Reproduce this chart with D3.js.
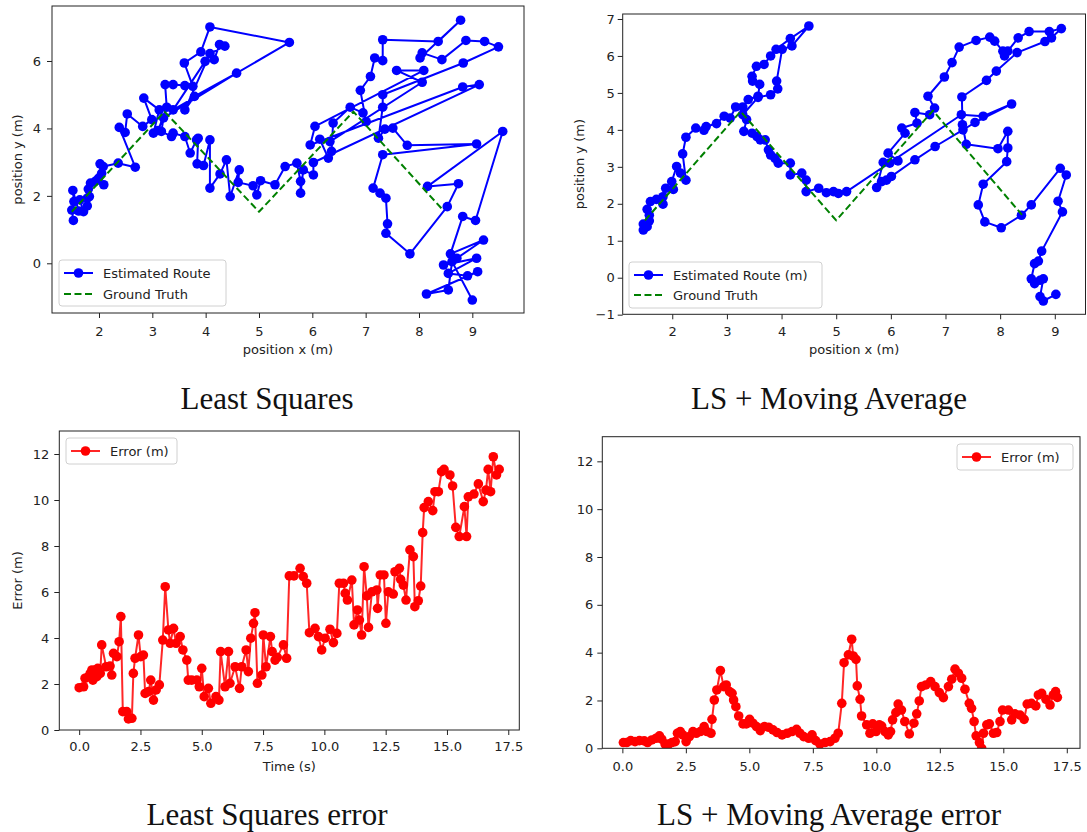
<!DOCTYPE html>
<html><head><meta charset="utf-8">
<script src="https://cdn.jsdelivr.net/npm/d3@7"></script>
<style>
body{margin:0;background:#fff}
svg{display:block}
.tk text,.lbl,.leg{font-family:"DejaVu Sans",sans-serif;font-size:13px;fill:#222}
.cap{font-family:"Liberation Serif","Times New Roman",serif;font-size:31px;fill:#111}
</style>
</head><body>
<svg id="c" width="1087" height="832"></svg>
<script>
// ---------------- DATA ----------------
const lsRouteX = [1.52,1.49,1.62,1.51,1.53,1.64,1.71,1.78,1.78,1.82,1.80,1.84,1.93,2.09,1.99,2.05,2.02,2.08,2.36,2.68,2.38,2.49,2.53,2.82,2.99,2.84,3.13,3.02,3.11,3.27,3.24,3.39,3.61,3.76,3.60,3.91,4.08,5.57,3.39,3.99,4.16,4.26,4.36,4.08,3.61,3.79,4.58,3.21,
 3.17,3.36,3.39,3.61,3.71,3.83,3.86,3.84,3.96,4.08,4.08,4.27,4.39,4.46,4.63,4.61,4.89,4.96,5.03,5.30,
 5.49,5.71,5.78,5.78,5.83,6.02,6.02,9.13,8.82,5.96,6.05,8.09,7.58,8.06,6.33,6.14,6.30,6.36,6.39,6.71,6.95,7.01,6.90,7.09,7.17,7.32,7.32,8.36,8.78,8.02,8.06,8.43,8.88,9.23,9.49,8.83,7.32,
 7.32,7.24,7.36,7.51,7.78,9.08,7.32,7.14,7.27,7.38,7.41,7.38,7.83,8.53,8.74,8.16,9.57,9.06,8.82,8.59,9.21,8.71,8.46,9.08,8.55,8.91,9.10,8.14,8.55,8.62,9.00];
const lsRouteY = [1.27,1.58,1.55,2.16,1.83,1.88,1.53,1.70,1.93,1.98,2.20,2.38,2.43,2.33,2.52,2.67,2.95,2.87,2.97,2.85,4.03,3.88,4.43,4.06,4.26,4.90,4.55,3.86,3.94,4.63,5.30,5.30,5.27,5.25,5.94,6.27,7.01,6.55,4.55,5.99,6.04,6.49,6.44,6.22,4.55,4.95,5.64,4.31,
 3.91,3.76,3.86,3.76,3.27,3.66,3.71,2.95,2.90,3.66,2.23,2.65,3.07,1.98,2.77,2.40,2.30,2.03,2.45,2.33,
 2.87,2.97,2.43,2.08,2.77,2.62,2.99,5.30,5.23,3.51,4.06,5.72,5.72,5.37,3.61,3.68,3.12,3.32,4.16,4.63,4.46,4.20,5.13,5.54,6.09,6.01,6.63,6.58,7.21,6.09,6.24,6.04,6.61,6.58,6.42,5.94,5.00,
 4.63,3.71,3.98,4.01,3.50,3.54,3.22,2.23,2.08,1.93,1.17,0.89,0.28,1.68,2.36,2.28,3.91,1.27,1.39,0.28,0.69,0.15,-0.05,0.15,-0.30,-0.37,-0.25,-0.91,-0.79,0.05,-1.09];
const lsTruthX = [1.49,3.23,5.0,6.77,8.45];
const lsTruthY = [1.53,4.5,1.53,4.5,1.58];

const maRouteX = [1.47,1.47,1.54,1.58,1.58,1.54,1.60,1.71,1.83,1.83,1.88,2.02,1.99,2.08,2.15,2.25,2.19,2.25,2.43,2.58,2.62,2.81,2.95,3.06,3.16,3.29,
 3.39,3.57,3.60,3.47,3.46,3.54,3.68,3.80,3.90,4.16,4.50,4.19,4.01,3.91,3.93,3.80,3.57,
 3.29,3.36,3.31,3.46,3.55,3.61,3.70,3.76,3.80,3.88,3.94,4.16,4.16,4.37,4.45,4.45,4.68,4.82,4.95,5.04,5.19,
 7.29,7.69,8.21,7.54,7.32,6.81,6.44,6.01,5.92,5.83,5.74,5.86,5.98,6.13,5.95,6.26,6.20,6.48,6.44,6.71,6.80,6.68,6.98,7.12,7.25,7.56,7.81,7.90,8.05,8.08,8.14,8.33,8.53,8.90,9.12,8.94,8.82,8.31,7.93,7.75,7.30,7.31,7.38,7.96,8.14,8.14,8.12,7.69,7.60,7.72,8.02,8.39,8.57,9.10,9.21,9.06,9.14,8.76,8.70,8.63,8.57,8.63,8.73,8.79,8.73,8.79,9.02];
const maRouteY = [1.29,1.45,1.38,1.54,1.69,1.85,2.06,2.12,1.99,2.19,2.42,2.39,2.60,3.01,2.83,2.64,3.35,3.80,4.05,3.99,4.09,4.17,4.37,4.32,4.62,4.62,
 4.82,4.91,5.23,5.32,5.45,5.72,5.77,6.00,6.18,6.47,6.81,6.27,6.18,5.32,5.11,4.95,4.88,
 4.41,4.28,3.96,3.91,3.82,3.73,3.73,3.46,3.32,3.23,3.10,3.10,2.78,2.83,2.64,2.33,2.42,2.30,2.33,2.28,2.33,
 4.41,4.37,4.70,4.20,4.00,3.55,3.19,2.74,2.64,2.60,2.44,3.12,3.10,3.16,3.37,3.91,4.05,4.18,4.47,4.41,4.59,4.91,5.43,5.82,6.24,6.42,6.51,6.40,6.13,6.00,6.13,6.49,6.66,6.66,6.74,6.49,6.39,6.09,5.59,5.34,4.89,4.14,3.61,3.49,3.96,3.51,3.14,2.53,1.97,1.51,1.35,1.69,1.97,2.96,2.78,2.07,1.78,0.72,0.45,0.38,-0.03,-0.16,-0.07,-0.03,-0.51,-0.63,-0.45];
const maTruthX = [1.5,3.25,5.0,6.77,8.4];
const maTruthY = [1.55,4.5,1.55,4.52,1.7];

const lsErrT = [0,0.18,0.24,0.38,0.45,0.52,0.56,0.65,0.72,0.76,0.86,0.92,1.1,1.26,1.33,1.40,1.54,1.63,1.70,1.78,1.94,2.01,2.15,2.21,2.28,2.42,2.51,2.62,2.69,2.83,2.92,3.03,3.14,3.27,3.41,3.51,3.64,3.71,3.85,3.95,4.12,4.23,4.39,4.45,4.59,4.80,4.90,5.00,5.10,5.27,5.37,5.58,5.70,5.77,5.95,6.09,6.15,6.36,6.54,6.63,6.81,6.90,7.00,7.11,7.17,7.27,7.45,7.51,7.62,7.80,7.87,7.99,8.08,8.33,8.46,8.57,8.76,9.01,9.14,9.28,9.39,9.62,9.76,9.89,10.03,10.23,10.37,10.51,10.61,10.78,10.85,10.94,11.12,11.21,11.35,11.43,11.52,11.62,11.73,11.80,11.94,12.14,12.17,12.28,12.43,12.51,12.61,12.81,12.88,13.06,13.11,13.22,13.33,13.49,13.63,13.69,13.83,13.93,14.01,14.07,14.24,14.42,14.51,14.65,14.78,14.88,15.12,15.23,15.36,15.50,15.71,15.80,15.87,16.10,16.28,16.48,16.59,16.68,16.78,16.89,17.02,17.13];
const lsErr = [1.84,1.88,2.25,2.32,2.46,2.61,2.17,2.61,2.32,2.68,2.46,3.70,2.75,2.78,2.39,3.33,3.19,3.84,4.93,0.80,0.80,0.48,0.51,2.46,3.12,4.13,3.19,3.26,1.59,1.67,2.17,1.30,1.74,1.96,3.91,6.23,4.35,3.77,4.42,3.77,4.06,3.48,3.04,2.17,2.17,2.17,1.88,2.68,1.45,1.81,1.16,1.45,1.30,3.41,1.88,3.41,2.03,2.75,1.81,2.75,3.48,2.54,3.99,4.64,5.10,2.03,2.39,4.13,2.75,4.06,3.41,3.04,3.16,3.70,3.12,6.70,6.70,7.03,6.67,6.38,4.23,4.42,4.06,3.48,3.99,4.38,3.80,4.20,6.38,6.38,5.94,5.65,6.52,4.57,5.22,4.78,4.13,7.10,5.83,4.46,6.01,6.09,5.29,6.74,6.74,4.64,6.01,5.91,6.88,7.03,6.55,6.30,5.65,7.83,7.54,5.36,5.62,6.26,8.58,9.67,9.93,9.54,10.36,10.36,11.23,11.33,11.09,10.61,8.81,8.41,9.71,8.41,10.14,10.26,10.70,9.93,10.43,11.33,10.36,11.88,11.09,11.33];

const maErrT = [0.04,0.17,0.33,0.50,0.67,0.86,0.99,1.16,1.33,1.46,1.55,1.68,1.82,1.95,2.08,2.17,2.28,2.38,2.51,2.64,2.78,2.91,3.07,3.22,3.33,3.49,3.53,3.62,3.72,3.86,3.99,4.09,4.22,4.32,4.38,4.47,4.58,4.75,4.88,5.01,5.14,5.28,5.43,5.59,5.76,5.93,6.09,6.29,6.49,6.68,6.86,6.99,7.14,7.34,7.47,7.61,7.78,7.98,8.18,8.37,8.50,8.64,8.73,8.90,9.03,9.09,9.20,9.25,9.36,9.42,9.62,9.75,9.86,9.99,10.12,10.21,10.34,10.47,10.56,10.64,10.77,10.86,10.99,11.12,11.30,11.48,11.59,11.69,11.78,11.95,12.14,12.31,12.48,12.64,12.84,12.97,13.10,13.23,13.36,13.49,13.66,13.75,13.85,13.93,14.06,14.15,14.22,14.35,14.45,14.61,14.74,14.87,14.97,15.20,15.33,15.46,15.66,15.82,15.94,16.11,16.28,16.38,16.51,16.68,16.84,16.97,17.06,17.13];
const maErr = [0.24,0.24,0.32,0.28,0.32,0.31,0.24,0.35,0.42,0.52,0.38,0.18,0.18,0.24,0.28,0.63,0.70,0.56,0.28,0.49,0.70,0.63,0.70,0.91,0.70,0.63,1.21,2.02,2.44,3.25,2.58,2.65,2.37,2.30,2.02,1.74,1.35,1.02,1.02,1.21,1.05,0.91,0.74,0.91,0.88,0.77,0.66,0.56,0.63,0.70,0.79,0.63,0.49,0.42,0.56,0.32,0.18,0.24,0.28,0.42,0.63,1.88,3.58,3.91,4.56,3.86,3.72,2.61,2.05,1.35,0.98,0.63,1.02,0.70,0.98,0.93,0.70,0.56,0.70,1.19,1.49,1.85,1.60,1.12,0.60,1.05,1.44,1.98,2.58,2.65,2.79,2.58,2.33,2.12,2.58,2.89,3.31,3.14,2.93,2.47,1.88,1.67,1.12,0.52,0.24,0.00,0.63,0.98,1.02,0.63,0.66,1.12,1.60,1.60,1.19,1.44,1.39,1.21,1.85,1.88,1.77,2.23,2.30,2.05,1.81,2.23,2.37,2.13];

const routeTicksX = [2,3,4,5,6,7,8,9];
const lsTicksY = [0,2,4,6];
const maTicksY = [-1,0,1,2,3,4,5,6,7];
const errTicksX = [0,2.5,5,7.5,10,12.5,15,17.5];
const errTicksY = [0,2,4,6,8,10,12];

// ---------------- DRAWING ----------------
const svg = d3.select('#c');
svg.append('rect').attr('width',1087).attr('height',832).attr('fill','#fff');
let clipId = 0;

function panel(o){
  const g = svg.append('g');
  const x = d3.scaleLinear().domain(o.xd).range([o.l, o.r]);
  const y = d3.scaleLinear().domain(o.yd).range([o.b, o.t]);
  const id = 'clip' + (clipId++);
  g.append('clipPath').attr('id', id).append('rect')
    .attr('x', o.l).attr('y', o.t).attr('width', o.r - o.l).attr('height', o.b - o.t);
  const pg = g.append('g').attr('clip-path', `url(#${id})`);
  const line = d3.line().x(d => x(d[0])).y(d => y(d[1]));
  o.series.forEach(s => {
    const pts = s.xs.map((v, i) => [v, s.ys[i]]);
    pg.append('path').datum(pts).attr('d', line).attr('fill', 'none')
      .attr('stroke', s.color).attr('stroke-width', s.lw)
      .attr('stroke-dasharray', s.dash || null).attr('stroke-opacity', s.op || 1)
      .attr('stroke-linejoin','round');
    if (s.marker) {
      pg.selectAll(null).data(pts).join('circle')
        .attr('cx', d => x(d[0])).attr('cy', d => y(d[1])).attr('r', 4.8)
        .attr('fill', s.color);
    }
  });
  // axes
  const ax = g.append('g').attr('class', 'tk').attr('transform', `translate(0,${o.b})`)
    .call(d3.axisBottom(x).tickValues(o.xt).tickSize(5).tickPadding(o.xpad).tickFormat(o.xf));
  const ay = g.append('g').attr('class', 'tk').attr('transform', `translate(${o.l},0)`)
    .call(d3.axisLeft(y).tickValues(o.yt).tickSize(5).tickPadding(o.ypad).tickFormat(d3.format('d')));
  [ax, ay].forEach(a => {
    a.select('.domain').remove();
    a.selectAll('line').attr('stroke', '#222').attr('stroke-width', 1);
    a.selectAll('text').attr('font-family', '"DejaVu Sans",sans-serif').attr('font-size', 13).attr('fill', '#222');
  });
  g.append('rect').attr('x', o.l).attr('y', o.t).attr('width', o.r - o.l).attr('height', o.b - o.t)
    .attr('fill', 'none').attr('stroke', '#222').attr('stroke-width', 1);
  if (o.xlabel) g.append('text').attr('class','lbl').attr('x', (o.l + o.r) / 2).attr('y', o.xly)
    .attr('text-anchor', 'middle').text(o.xlabel);
  if (o.ylabel) g.append('text').attr('class','lbl')
    .attr('transform', `translate(${o.ylx},${(o.t + o.b) / 2}) rotate(-90)`)
    .attr('text-anchor', 'middle').text(o.ylabel);
  // legend
  const L = o.legend;
  const lg = g.append('g');
  lg.append('rect').attr('x', L.x).attr('y', L.y).attr('width', L.w).attr('height', L.h)
    .attr('rx', 3).attr('fill', '#fff').attr('fill-opacity', 0.85).attr('stroke', '#d0d0d0').attr('stroke-width', 1);
  L.items.forEach((it, i) => {
    const cy = L.y + L.first + i * L.step;
    const s = o.series[it.si];
    lg.append('line').attr('x1', L.x + 5).attr('x2', L.x + 34).attr('y1', cy).attr('y2', cy)
      .attr('stroke', s.color).attr('stroke-width', s.lw).attr('stroke-dasharray', s.dash || null)
      .attr('stroke-opacity', s.op || 1);
    if (s.marker) lg.append('circle').attr('cx', L.x + 19.5).attr('cy', cy).attr('r', 4.8).attr('fill', s.color);
    lg.append('text').attr('class','leg').attr('x', L.x + 44).attr('y', cy + 4.7).text(it.label);
  });
}

const intF = d3.format('d');
const decF = d3.format('.1f');

panel({l:52, r:524, t:6, b:313, xd:[1.119, 9.969], yd:[-1.474, 7.631],
  xt: routeTicksX, yt: lsTicksY, xf: intF, xpad: 9, ypad: 6,
  xlabel: 'position x (m)', xly: 354, ylabel: 'position y (m)', ylx: 22,
  series: [
    {xs: lsRouteX, ys: lsRouteY, color: '#0000ff', lw: 2, marker: true},
    {xs: lsTruthX, ys: lsTruthY, color: '#008000', lw: 2, dash: '7,3.5'}
  ],
  legend: {x: 59, y: 260, w: 167, h: 46, first: 13, step: 21,
    items: [{si: 0, label: 'Estimated Route'}, {si: 1, label: 'Ground Truth'}]}
});

panel({l:622.7, r:1085.5, t:14, b:314.3, xd:[1.093, 9.562], yd:[-0.99, 7.135],
  xt: routeTicksX, yt: maTicksY, xf: intF, xpad: 7, ypad: 3,
  xlabel: 'position x (m)', xly: 354, ylabel: 'position y (m)', ylx: 584,
  series: [
    {xs: maRouteX, ys: maRouteY, color: '#0000ff', lw: 2, marker: true},
    {xs: maTruthX, ys: maTruthY, color: '#008000', lw: 2, dash: '7,3.5'}
  ],
  legend: {x: 629, y: 262, w: 193, h: 46, first: 13, step: 20,
    items: [{si: 0, label: 'Estimated Route (m)'}, {si: 1, label: 'Ground Truth'}]}
});

panel({l:59.3, r:519.3, t:431, b:730, xd:[-0.81, 17.95], yd:[0, 13.0],
  xt: errTicksX, yt: errTicksY, xf: decF, xpad: 7, ypad: 5,
  xlabel: 'Time (s)', xly: 771, ylabel: 'Error (m)', ylx: 22,
  series: [{xs: lsErrT, ys: lsErr, color: '#ff0000', lw: 2, marker: true, op: 0.85}],
  legend: {x: 66, y: 438, w: 111, h: 26, first: 13, step: 20,
    items: [{si: 0, label: 'Error (m)'}]}
});

panel({l:602.3, r:1080, t:436.7, b:748.3, xd:[-0.79, 18.02], yd:[0, 13.03],
  xt: errTicksX, yt: errTicksY, xf: decF, xpad: 8, ypad: 4,
  series: [{xs: maErrT, ys: maErr, color: '#ff0000', lw: 2, marker: true, op: 0.85}],
  legend: {x: 957, y: 444, w: 116, h: 26, first: 13, step: 20,
    items: [{si: 0, label: 'Error (m)'}]}
});

// captions
const caps = [
  {x: 267, y: 409, t: 'Least Squares'},
  {x: 829, y: 409, t: 'LS + Moving Average'},
  {x: 267, y: 825, t: 'Least Squares error'},
  {x: 829, y: 825, t: 'LS + Moving Average error'}
];
svg.selectAll('text.cap').data(caps).join('text').attr('class', 'cap')
  .attr('x', d => d.x).attr('y', d => d.y).attr('text-anchor', 'middle').text(d => d.t);
</script>
</body></html>
